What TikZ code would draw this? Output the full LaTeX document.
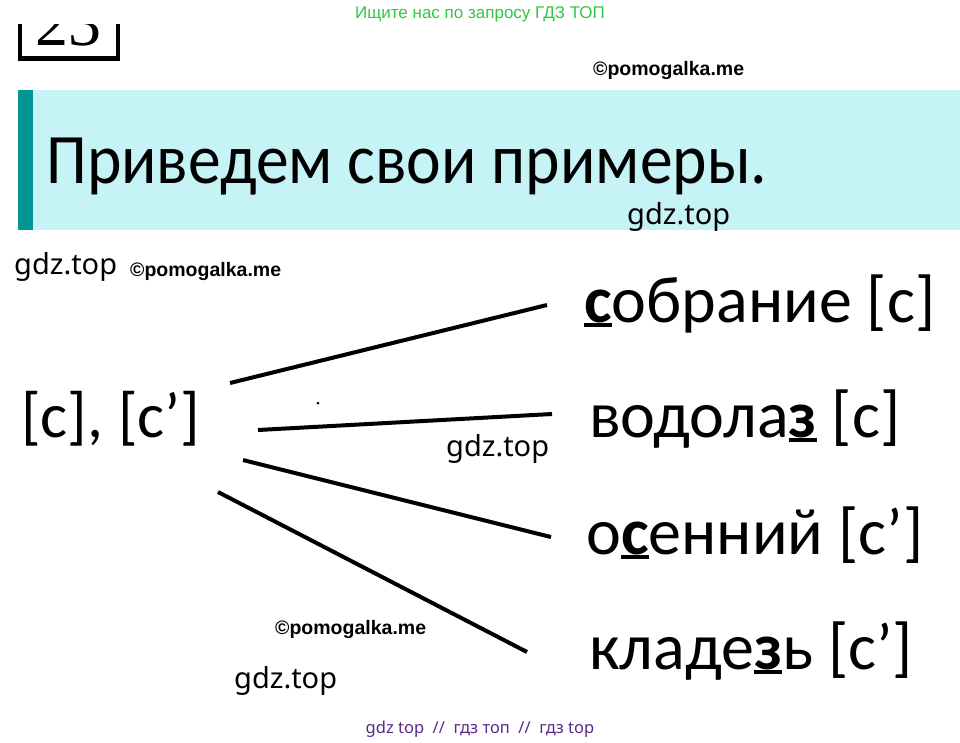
\documentclass[tikz,border=0pt]{standalone}
\usepackage{graphicx}
\usepackage{fontspec}
\setmainfont{Carlito}
\newfontfamily\wmfont{Noto Sans}
\newfontfamily\pmfont{Liberation Sans}
\newfontfamily\numfont{Liberation Serif}
\definecolor{bannerbg}{RGB}{198,243,246}
\definecolor{bannerbar}{RGB}{0,150,150}
\definecolor{wmgreen}{RGB}{45,200,70}
\definecolor{wmpurple}{RGB}{90,40,140}
\tikzset{
  wm/.style={inner sep=0pt, anchor=base west, font=\wmfont\fontsize{29}{32}\selectfont},
  pm/.style={inner sep=0pt, anchor=base west, font=\pmfont\bfseries\fontsize{19.5}{22}\selectfont},
  word/.style={inner sep=0pt, anchor=base west, font=\fontsize{66}{72}\selectfont},
  link/.style={line width=4pt, black}
}
\newcommand{\ul}[1]{\setbox0\hbox{\textbf{#1}}\rlap{\rule[-0.08em]{\wd0}{0.06em}}\box0\relax}
\begin{document}
\begin{tikzpicture}[x=1pt,y=-1pt]
\useasboundingbox (0,0) rectangle (960,742);
\begin{scope}
\clip (0,24) rectangle (960,742);
% number box
\draw[line width=4.5pt] (20,-5) -- (20,58.5) -- (118,58.5) -- (118,-5);
\node[inner sep=0pt, anchor=base west, font=\numfont\fontsize{66}{70}\selectfont] (num) at (35,45) {23};
\end{scope}
% top green text
\node[inner sep=0pt, anchor=base, text=wmgreen, font=\pmfont\fontsize{17}{19}\selectfont] (search) at (480,18) {Ищите нас по запросу ГДЗ ТОП};
\node[pm] (pm1) at (593,75) {©pomogalka.me};
% banner
\fill[bannerbg] (18,90) rectangle (960,230);
\fill[bannerbar] (18,90) rectangle (33,230);
\node[inner sep=0pt, anchor=base west, font=\fontsize{71}{76}\selectfont] (title) at (46,183) {\scalebox{0.924}[1]{Приведем свои примеры.}};
\node[wm] (g1) at (627,224) {gdz.top};
\node[wm] (g2) at (14,274) {gdz.top};
\node[pm] (pm2) at (130,276) {©pomogalka.me};
% left label
\node[word, font=\fontsize{64}{70}\selectfont] (src) at (21,437) {[с], [с’]};
% words
\node[word] (w1) at (584,322) {\ul{с}обрание [с]};
\node[word] (w2) at (589,437) {водола\ul{з} [с]};
\node[word] (w3) at (586,554) {о\ul{с}енний [с’]};
\node[word] (w4) at (589,669) {кладе\ul{з}ь [с’]};
% connectors
\coordinate (a1) at (230,383); \coordinate (b1) at (547,305);
\coordinate (a2) at (258,430); \coordinate (b2) at (552,414);
\coordinate (a3) at (243,460); \coordinate (b3) at (551,537);
\coordinate (a4) at (218,492); \coordinate (b4) at (527,652);
\draw[link] (a1) -- (b1);
\draw[link] (a2) -- (b2);
\draw[link] (a3) -- (b3);
\draw[link] (a4) -- (b4);
\fill (318,403) circle (1.5pt);
% watermarks
\node[wm] (g3) at (446,456) {gdz.top};
\node[pm] (pm3) at (275,634) {©pomogalka.me};
\node[wm] (g4) at (234,688) {gdz.top};
\node[inner sep=0pt, anchor=base, text=wmpurple, font=\wmfont\fontsize{16.5}{18}\selectfont] (foot) at (480,733) {gdz top \ // \ гдз топ \ // \ гдз top};
\end{tikzpicture}
\end{document}
